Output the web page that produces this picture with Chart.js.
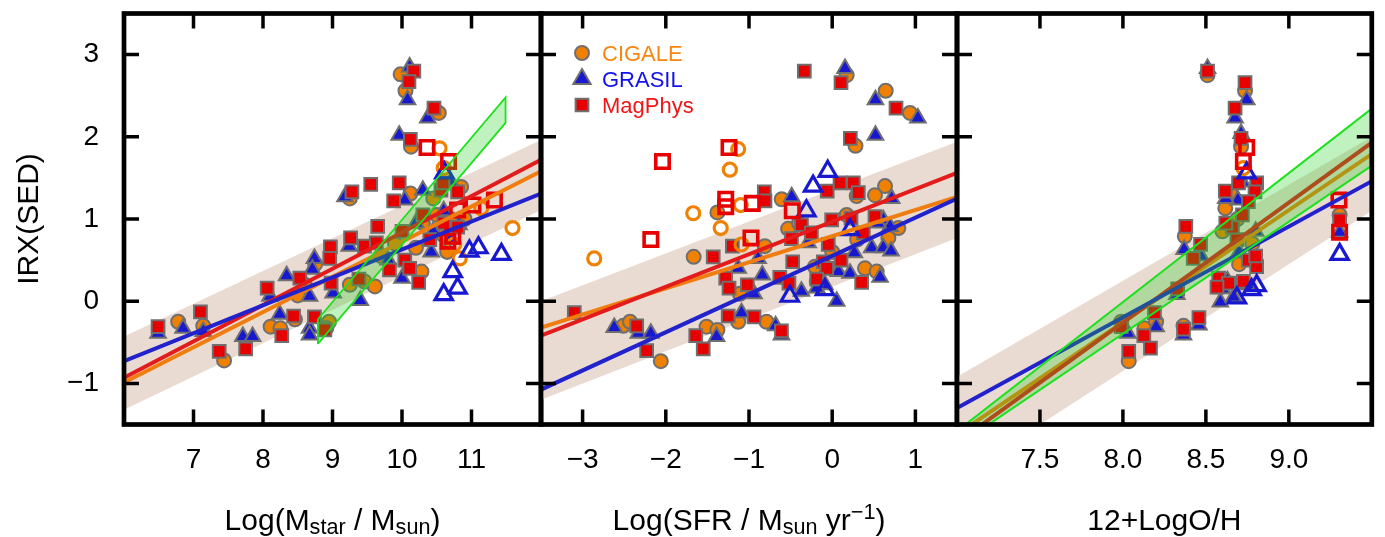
<!DOCTYPE html>
<html><head><meta charset="utf-8">
<script src="https://cdn.jsdelivr.net/npm/chart.js@4.4.1/dist/chart.umd.min.js"></script>
<style>
html,body{margin:0;padding:0;background:#fff;width:1385px;height:537px;overflow:hidden}
canvas{position:absolute;left:0;top:0}
</style></head>
<body>
<canvas id="c1" width="1385" height="537"></canvas>
<canvas id="c2" width="1385" height="537"></canvas>
<canvas id="c3" width="1385" height="537"></canvas>
<script>
// ---------- tick labels ----------
const irxTicks = [-1, 0, 1, 2, 3];
const massTicks = [7, 8, 9, 10, 11];
const sfrTicks = [-3, -2, -1, 0, 1];
const ohTicks = [7.5, 8.0, 8.5, 9.0];
const legendLabels = ['CIGALE', 'GRASIL', 'MagPhys'];

// ---------- panel 1: stellar mass ----------
const massCigale = [[9.98,2.76],[10.05,2.56],[10.53,2.29],[10.13,1.88],[9.25,1.25],[10.12,1.31],[10.85,1.39],
 [6.78,-0.25],[7.14,-0.30],[7.44,-0.72],[8.11,-0.31],[8.25,-0.33],[8.46,-0.22],[8.60,0.20],[8.50,0.07],[8.95,-0.25],
 [8.91,-0.33],[9.25,0.20],[9.46,0.24],[9.61,0.18],[10.28,0.36],[10.30,0.95],[10.50,1.05],[10.70,1.00],[10.60,0.80],
 [9.90,0.70],[10.20,0.65],[10.90,1.00],[10.45,1.25],[8.75,0.45],[9.70,0.55],[10.65,0.60]];
const massGrasil = [[10.11,2.85],[10.08,2.45],[9.96,2.02],[10.37,2.23],[9.18,1.27],[10.04,1.23],
 [6.49,-0.39],[6.85,-0.33],[7.14,-0.37],[7.71,-0.43],[7.85,-0.43],[8.10,0.06],[8.24,-0.16],[8.34,0.31],[8.67,0.06],
 [8.67,-0.33],[8.67,-0.41],[8.74,0.52],[8.71,0.39],[9.24,0.67],[9.01,0.10],[9.40,0.01],[10.00,0.28],[10.42,0.60],
 [10.82,0.93],[10.20,0.95],[10.60,1.10],[10.45,0.85],[9.80,0.50],[10.70,0.75],[10.30,1.35],[10.70,1.45]];
const massMagphys = [[10.17,2.80],[10.10,2.67],[10.46,2.35],[10.12,1.97],[9.28,1.33],[9.96,1.44],[9.88,1.22],[10.56,1.35],
 [10.80,1.33],[10.59,1.44],[6.49,-0.31],[7.10,-0.13],[7.37,-0.61],[7.75,-0.58],[8.06,0.16],[8.27,-0.42],[8.44,-0.18],
 [8.53,0.28],[8.74,-0.19],[8.89,-0.35],[8.97,0.66],[8.96,0.52],[9.26,0.77],[9.46,0.67],[9.63,0.71],[9.65,0.91],[8.98,0.22],
 [9.38,0.27],[9.82,0.38],[10.04,0.50],[10.11,0.40],[10.24,0.23],[10.30,1.05],[10.60,0.95],[10.00,0.85],[10.80,0.90],
 [9.55,1.42],[10.40,0.75]];
const massCigaleOpen = [[10.54,1.86],[10.60,1.62],[11.59,0.89],[10.83,0.52],[11.14,1.13],[10.75,0.69]];
const massGrasilOpen = [[10.61,1.56],[10.73,0.36],[10.80,0.16],[10.60,0.08],[10.97,0.61],[11.10,0.65],[11.43,0.57]];
const massMagphysOpen = [[10.36,1.87],[10.67,1.70],[11.33,1.23],[11.02,1.17],[10.80,1.11],[10.66,0.73],[10.73,0.79]];
const massFitCigale = [[6,-0.99],[12,1.58]];
const massFitGrasil = [[6,-0.73],[12,1.31]];
const massFitMagphys = [[6,-0.93],[12,1.72]];
const massBandUpper = [[6,-0.43],[12,1.96]];
const massBandLower = [[6,-1.32],[12,1.11]];
const massGreenUpper = [[8.79,-0.22],[11.49,2.48]];
const massGreenLower = [[8.79,-0.52],[11.49,2.17]];

// ---------- panel 2: SFR ----------
const sfrCigale = [[0.174,2.75],[0.643,2.56],[0.935,2.29],[0.28,1.89],[0.635,1.40],[0.514,1.29],[0.294,1.28],[-0.607,1.24],
 [-1.38,1.08],[-1.665,0.54],[-0.81,0.67],[-1.11,0.09],[-0.53,0.88],[0.174,1.05],[0.795,0.89],[-0.207,0.42],[0.675,0.77],
 [0.394,0.40],[0.535,0.36],[-0.186,0.24],[-2.51,-0.30],[-2.43,-0.25],[-2.06,-0.73],[-1.51,-0.31],[-1.38,-0.35],
 [-1.13,-0.25],[-0.79,-0.25],[0.0,0.60],[0.30,0.75],[-0.40,0.95]];
const sfrGrasil = [[0.154,2.83],[0.52,2.45],[1.03,2.23],[0.52,2.02],[0.715,1.25],[-0.487,1.27],[-0.89,0.52],[-1.13,0.40],
 [-0.84,0.32],[-0.94,0.09],[-0.37,0.12],[-0.29,0.71],[0.614,0.99],[0.695,0.91],[0.073,0.36],[0.214,0.34],[0.266,0.59],
 [0.475,0.65],[0.614,0.65],[0.707,0.61],[0.575,0.29],[-0.087,0.20],[-0.186,0.16],[0.054,0.00],[-2.62,-0.32],[-2.33,-0.39],
 [-2.18,-0.39],[-1.39,-0.43],[-1.09,-0.14],[-0.68,-0.30],[-0.61,-0.41],[0.55,0.95]];
const sfrMagphys = [[-0.335,2.80],[0.106,2.66],[0.767,2.35],[0.218,1.98],[0.094,1.44],[0.254,1.44],[0.314,1.32],[-0.06,1.34],
 [-0.816,1.33],[-0.808,1.22],[-1.43,0.54],[-1.20,0.67],[-1.28,0.28],[-1.24,0.16],[-1.02,0.20],[-0.475,0.48],[-0.63,0.29],
 [-0.52,0.22],[-0.37,0.93],[-0.49,0.76],[-0.25,0.83],[-0.006,0.99],[0.226,1.01],[0.514,1.03],[0.374,0.83],[-0.047,0.69],
 [-0.107,0.48],[-0.066,0.40],[0.106,0.50],[0.354,0.23],[-0.186,0.27],[-3.10,-0.14],[-2.35,-0.30],[-2.23,-0.60],
 [-1.64,-0.42],[-1.55,-0.58],[-1.25,-0.18],[-0.94,-0.19],[-0.61,-0.36]];
const sfrCigaleOpen = [[-1.13,1.85],[-1.23,1.60],[-1.10,1.17],[-1.67,1.07],[-1.34,0.89],[-2.86,0.52],[-1.09,0.69]];
const sfrGrasilOpen = [[-0.054,1.58],[-0.23,1.40],[-0.31,1.10],[-0.51,0.06],[0.214,0.87],[-0.087,0.14]];
const sfrMagphysOpen = [[-1.24,1.87],[-2.04,1.70],[-1.28,1.24],[-1.28,1.15],[-0.96,1.19],[-0.48,1.10],[-2.18,0.75],[-0.976,0.77]];
const sfrFitCigale = [[-3.5,-0.32],[1.5,1.27]];
const sfrFitGrasil = [[-3.5,-1.075],[1.5,1.25]];
const sfrFitMagphys = [[-3.5,-0.42],[1.5,1.56]];
const sfrBandUpper = [[-3.5,0.0],[1.5,1.94]];
const sfrBandLower = [[-3.5,-1.2],[1.5,0.77]];

// ---------- panel 3: metallicity ----------
const ohCigale = [[8.51,2.75],[8.736,2.56],[8.712,1.88],[9.306,1.05],[8.617,1.13],[8.373,0.79],[7.99,-0.25],[8.035,-0.73],
 [8.13,-0.33],[8.365,-0.30],[8.70,0.45],[8.78,0.70],[8.60,0.85],[8.65,1.30],[8.20,-0.25],[8.69,1.00]];
const ohGrasil = [[8.51,2.83],[8.746,2.45],[8.676,2.23],[8.712,2.04],[8.693,1.23],[8.62,1.25],[8.369,0.63],[8.47,0.55],
 [8.587,-0.01],[8.667,0.05],[8.63,0.25],[8.75,0.20],[8.70,0.60],[8.80,0.85],[8.03,-0.39],[8.20,-0.31],[8.365,-0.41],
 [8.458,-0.29],[8.325,0.08],[9.306,0.84],[8.72,1.45],[8.60,0.15]];
const ohMagphys = [[8.51,2.80],[8.736,2.66],[8.676,2.35],[8.712,1.98],[8.697,1.44],[8.617,1.34],[8.806,1.44],[8.796,1.33],
 [8.756,1.21],[9.306,0.99],[8.379,0.91],[8.468,0.69],[8.424,0.52],[8.687,0.75],[8.756,0.50],[8.806,0.42],[8.577,0.28],
 [8.637,0.22],[8.726,0.24],[8.567,0.17],[8.80,0.55],[8.66,0.90],[8.72,1.05],[8.62,0.95],[8.19,-0.14],[8.126,-0.42],
 [8.166,-0.57],[7.99,-0.31],[8.035,-0.61],[8.365,-0.34],[8.458,-0.20],[8.33,0.15]];
const ohCigaleOpen = [[8.726,1.62]];
const ohGrasilOpen = [[8.746,1.56],[9.306,0.57],[8.776,0.14],[8.806,0.19],[8.687,0.04]];
const ohMagphysOpen = [[8.746,1.87],[8.726,1.70],[9.302,1.23],[9.306,0.84]];
const ohFitCigale = [[7,-1.62],[9.5,1.79]];
const ohFitGrasil = [[7,-1.30],[9.5,1.46]];
const ohFitMagphys = [[7,-1.72],[9.5,1.93]];
const ohBandUpper = [[7,-0.92],[9.5,2.0]];
const ohBandLower = [[7,-2.15],[9.5,1.10]];
const ohGreenUpper = [[7,-1.58],[9.5,2.344]];
const ohGreenLower = [[7,-1.76],[9.5,1.65]];

// ---------- styles ----------
const FONT = '"Liberation Sans", Arial, Helvetica, sans-serif';
const ORANGE = '#f08000', BLUE = '#1818d0', RED = '#e60000', GRAY = '#6f6f6f';
const L_ORANGE = '#ef7d10', L_BLUE = '#2222cc', L_RED = '#e41b1b';
const BEIGE = '#e9dbd2', GFILL = 'rgba(30,210,30,0.28)', GLINE = '#1fe01f';
const TOP = 13.5, BOTTOM = 424.5, W = 1385, H = 537, XAXIS_H = 70;

const pts = a => a.map(p => ({x: p[0], y: p[1]}));
const fmtInt = v => (v < 0 ? '\u2212' : '') + Math.abs(v);
const fmt1 = v => Number(v).toFixed(1);

function drawRich(ctx, parts, cx, baseY, size) {
  let total = 0;
  parts.forEach(p => { ctx.font = (size * p.s) + 'px ' + FONT; p.w = ctx.measureText(p.t).width; total += p.w; });
  let x = cx - total / 2;
  ctx.textAlign = 'left'; ctx.textBaseline = 'alphabetic'; ctx.fillStyle = '#000';
  parts.forEach(p => { ctx.font = (size * p.s) + 'px ' + FONT; ctx.fillText(p.t, x, baseY + (p.dy || 0)); x += p.w; });
}

function marker(ctx, style, x, y, r, fill, stroke, lw) {
  ctx.beginPath();
  if (style === 'circle') ctx.arc(x, y, r, 0, Math.PI * 2);
  else if (style === 'triangle') {
    ctx.moveTo(x, y - r);
    ctx.lineTo(x + r * Math.sin(2 * Math.PI / 3), y - r * Math.cos(2 * Math.PI / 3));
    ctx.lineTo(x + r * Math.sin(4 * Math.PI / 3), y - r * Math.cos(4 * Math.PI / 3));
    ctx.closePath();
  } else { const s = r * Math.SQRT1_2; ctx.rect(x - s, y - s, 2 * s, 2 * s); }
  ctx.fillStyle = fill; ctx.fill();
  ctx.lineWidth = lw; ctx.strokeStyle = stroke; ctx.stroke();
}

function makeChart(id, o) {
  const ds = [];
  ds.push({type: 'line', data: pts(o.bandU), fill: '+1', backgroundColor: BEIGE, borderWidth: 0, pointRadius: 0, order: 20, clip: 0});
  ds.push({type: 'line', data: pts(o.bandL), fill: false, borderWidth: 0, pointRadius: 0, order: 20, clip: 0});
  const sc = (d, style, r, fill, stroke, bw, order) => ({type: 'scatter', data: pts(d), pointStyle: style, pointRadius: r,
    pointHoverRadius: r, backgroundColor: fill, borderColor: stroke, borderWidth: bw, order: order});
  ds.push(sc(o.cig, 'circle', 7, ORANGE, GRAY, 2, 16));
  ds.push(sc(o.gra, 'triangle', 9, BLUE, GRAY, 2, 15));
  ds.push(sc(o.mag, 'rect', 9, RED, GRAY, 2, 14));
  ds.push(sc(o.cigO, 'circle', 6.5, 'rgba(0,0,0,0)', ORANGE, 3.2, 13));
  ds.push(sc(o.graO, 'triangle', 10, 'rgba(0,0,0,0)', BLUE, 3.2, 12));
  ds.push(sc(o.magO, 'rect', 9.5, 'rgba(0,0,0,0)', RED, 3.6, 11));
  const ln = (d, c, order) => ({type: 'line', data: pts(d), borderColor: c, borderWidth: 4, pointRadius: 0, fill: false, order: order, clip: 0});
  ds.push(ln(o.fitC, L_ORANGE, 8));
  ds.push(ln(o.fitM, L_RED, 7));
  ds.push(ln(o.fitG, L_BLUE, 6));
  if (o.greenU) {
    const gw = o.greenClosed ? 0 : 2;
    ds.push({type: 'line', data: pts(o.greenU), fill: '+1', backgroundColor: GFILL, borderColor: GLINE, borderWidth: gw, pointRadius: 0, order: 3, clip: 0});
    ds.push({type: 'line', data: pts(o.greenL), fill: false, borderColor: GLINE, borderWidth: gw, pointRadius: 0, order: 2, clip: 0});
    if (o.greenClosed) {
      const poly = [o.greenL[0], o.greenU[0], o.greenU[1], o.greenL[1], o.greenL[0]];
      ds.push({type: 'line', data: pts(poly), fill: false, borderColor: GLINE, borderWidth: 1.8, pointRadius: 0, order: 1, clip: 0});
    }
  }
  const frame = {
    id: 'frame' + id,
    afterDraw(chart) {
      const ctx = chart.ctx, a = chart.chartArea, xs = chart.scales.x, ys = chart.scales.y;
      ctx.save();
      ctx.strokeStyle = '#000'; ctx.lineWidth = 3.5; ctx.lineCap = 'butt';
      const tl = 15;
      ctx.beginPath();
      o.xTicks.forEach(v => { const px = xs.getPixelForValue(v);
        ctx.moveTo(px, a.top); ctx.lineTo(px, a.top + tl); ctx.moveTo(px, a.bottom); ctx.lineTo(px, a.bottom - tl); });
      irxTicks.forEach(v => { const py = ys.getPixelForValue(v);
        ctx.moveTo(a.left, py); ctx.lineTo(a.left + tl, py); ctx.moveTo(a.right, py); ctx.lineTo(a.right - tl, py); });
      ctx.stroke();
      ctx.lineWidth = 4.7;
      ctx.strokeRect(a.left, a.top, a.right - a.left, a.bottom - a.top);
      drawRich(ctx, o.title, (a.left + a.right) / 2, 530, 30);
      if (o.showY) {
        ctx.save();
        ctx.translate(38, (a.top + a.bottom) / 2);
        ctx.rotate(-Math.PI / 2);
        ctx.font = '30px ' + FONT; ctx.fillStyle = '#000'; ctx.textAlign = 'center'; ctx.textBaseline = 'alphabetic';
        ctx.fillText('IRX(SED)', 0, 0);
        ctx.restore();
      }
      if (o.legend) {
        const styles = [['circle', 7, ORANGE, '#f7870f'], ['triangle', 10, BLUE, '#1111ee'], ['rect', 9, RED, '#f01515']];
        const lx = a.left + 41, ly = [53, 79, 105];
        styles.forEach((s, i) => {
          marker(ctx, s[0], lx, ly[i], s[1], s[2], GRAY, 2);
          ctx.font = '22px ' + FONT; ctx.fillStyle = s[3]; ctx.textAlign = 'left'; ctx.textBaseline = 'alphabetic';
          ctx.fillText(legendLabels[i], lx + 20, ly[i] + 8);
        });
      }
      ctx.restore();
    }
  };
  return new Chart(document.getElementById(id), {
    type: 'scatter',
    data: {datasets: ds},
    options: {
      responsive: false, animation: false, events: [],
      layout: {padding: {left: o.padL, right: o.padR, top: TOP, bottom: H - BOTTOM - XAXIS_H}},
      plugins: {legend: {display: false}, tooltip: {enabled: false}},
      scales: {
        x: {type: 'linear', position: 'bottom', min: o.xMin, max: o.xMax,
          afterBuildTicks: s => { s.ticks = o.xTicks.map(v => ({value: v})); },
          afterFit: s => { s.height = XAXIS_H; s.paddingLeft = 0; s.paddingRight = 0; },
          grid: {display: false, drawTicks: false}, border: {display: false},
          ticks: {font: {family: FONT, size: 28}, color: '#000', padding: 19, maxRotation: 0, autoSkip: false, callback: o.fmt}},
        y: {type: 'linear', min: -1.5, max: 3.5, display: o.showY,
          afterBuildTicks: s => { s.ticks = irxTicks.map(v => ({value: v})); },
          afterFit: s => { s.width = o.showY ? 124 : 0; s.paddingTop = 0; s.paddingBottom = 0; },
          grid: {display: false, drawTicks: false}, border: {display: false},
          ticks: {font: {family: FONT, size: 28}, color: '#000', padding: 25, callback: fmtInt}}
      }
    },
    plugins: [frame]
  });
}

makeChart('c1', {padL: 0, padR: W - 541, xMin: 6, xMax: 12, xTicks: massTicks, fmt: fmtInt, showY: true,
  cig: massCigale, gra: massGrasil, mag: massMagphys, cigO: massCigaleOpen, graO: massGrasilOpen, magO: massMagphysOpen,
  fitC: massFitCigale, fitG: massFitGrasil, fitM: massFitMagphys, bandU: massBandUpper, bandL: massBandLower,
  greenU: massGreenUpper, greenL: massGreenLower, greenClosed: true,
  title: [{t: 'Log(M', s: 1}, {t: 'star', s: 0.72, dy: 4}, {t: ' / M', s: 1}, {t: 'sun', s: 0.72, dy: 4}, {t: ')', s: 1}]});

makeChart('c2', {padL: 541, padR: W - 957, xMin: -3.5, xMax: 1.5, xTicks: sfrTicks, fmt: fmtInt, showY: false, legend: true,
  cig: sfrCigale, gra: sfrGrasil, mag: sfrMagphys, cigO: sfrCigaleOpen, graO: sfrGrasilOpen, magO: sfrMagphysOpen,
  fitC: sfrFitCigale, fitG: sfrFitGrasil, fitM: sfrFitMagphys, bandU: sfrBandUpper, bandL: sfrBandLower,
  title: [{t: 'Log(SFR / M', s: 1}, {t: 'sun', s: 0.72, dy: 4}, {t: ' yr', s: 1}, {t: '\u22121', s: 0.72, dy: -11}, {t: ')', s: 1}]});

makeChart('c3', {padL: 957, padR: W - 1374, xMin: 7, xMax: 9.5, xTicks: ohTicks, fmt: fmt1, showY: false,
  cig: ohCigale, gra: ohGrasil, mag: ohMagphys, cigO: ohCigaleOpen, graO: ohGrasilOpen, magO: ohMagphysOpen,
  fitC: ohFitCigale, fitG: ohFitGrasil, fitM: ohFitMagphys, bandU: ohBandUpper, bandL: ohBandLower,
  greenU: ohGreenUpper, greenL: ohGreenLower, greenClosed: false,
  title: [{t: '12+LogO/H', s: 1}]});
</script>
</body></html>
